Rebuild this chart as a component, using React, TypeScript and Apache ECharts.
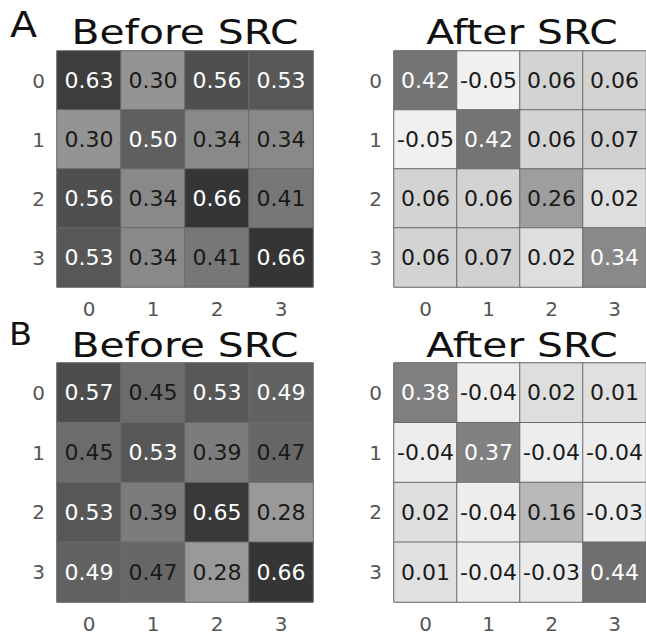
import React, { useEffect, useRef } from "react";
import * as echarts from "echarts";

const categories = ["0", "1", "2", "3"];
const panelTitles = ["Before SRC", "After SRC", "Before SRC", "After SRC"];
const rowLetters = ["A", "B"];

const beforeA = [
  [0.63, 0.30, 0.56, 0.53],
  [0.30, 0.50, 0.34, 0.34],
  [0.56, 0.34, 0.66, 0.41],
  [0.53, 0.34, 0.41, 0.66],
];
const afterA = [
  [0.42, -0.05, 0.06, 0.06],
  [-0.05, 0.42, 0.06, 0.07],
  [0.06, 0.06, 0.26, 0.02],
  [0.06, 0.07, 0.02, 0.34],
];
const beforeB = [
  [0.57, 0.45, 0.53, 0.49],
  [0.45, 0.53, 0.39, 0.47],
  [0.53, 0.39, 0.65, 0.28],
  [0.49, 0.47, 0.28, 0.66],
];
const afterB = [
  [0.38, -0.04, 0.02, 0.01],
  [-0.04, 0.37, -0.04, -0.04],
  [0.02, -0.04, 0.16, -0.03],
  [0.01, -0.04, -0.03, 0.44],
];
// values above which the cell text is white, per panel
const whiteThresholds = [0.48, 0.30, 0.48, 0.30];

const matrices = [beforeA, afterA, beforeB, afterB];

const grids = [
  { left: 57, top: 51, width: 256, height: 236 },
  { left: 394, top: 51, width: 257, height: 236 },
  { left: 57, top: 363, width: 256, height: 239 },
  { left: 394, top: 363, width: 257, height: 239 },
];

export default function App() {
  const ref = useRef<HTMLDivElement>(null);
  useEffect(() => {
    if (!ref.current) return;
    const chart = echarts.init(ref.current, null, { renderer: "svg" });
    const font = "DejaVu Sans";
    const xAxis = grids.map((_, i) => ({
      type: "category",
      gridIndex: i,
      data: categories,
      axisLine: { show: false },
      axisTick: { show: false },
      splitLine: { show: false },
      axisLabel: { color: "#555", fontSize: 20, fontFamily: font, margin: 12 },
    }));
    const yAxis = grids.map((_, i) => ({
      type: "category",
      gridIndex: i,
      data: categories,
      inverse: true,
      axisLine: { show: false },
      axisTick: { show: false },
      splitLine: { show: false },
      axisLabel: { color: "#555", fontSize: 20, fontFamily: font, margin: 12 },
    }));
    const series = matrices.map((m, i) => ({
      type: "heatmap",
      xAxisIndex: i,
      yAxisIndex: i,
      data: m.flatMap((row, r) =>
        row.map((v, c) => ({
          value: [c, r, v],
          label: { color: v > whiteThresholds[i] ? "#ffffff" : "#1a1a1a" },
        }))
      ),
      label: {
        show: true,
        fontSize: 22,
        fontFamily: font,
        formatter: (p: any) => p.value[2].toFixed(2),
      },
      itemStyle: { borderColor: "#6a6a6a", borderWidth: 1 },
    }));
    const titleCenters = grids.map((g) => g.left + 128);
    const titleY = [32, 32, 345, 345];
    const graphic: any[] = panelTitles.map((t, i) => ({
      type: "text",
      x: titleCenters[i],
      y: titleY[i],
      scaleX: 1.2,
      style: {
        text: t,
        fontSize: 34,
        fontFamily: font,
        fill: "#111",
        textAlign: "center",
        textVerticalAlign: "middle",
      },
    }));
    graphic.push({
      type: "text",
      x: 10,
      y: 25,
      scaleX: 1.1,
      style: { text: rowLetters[0], fontSize: 36, fontFamily: font, fill: "#111", textAlign: "left", textVerticalAlign: "middle" },
    });
    graphic.push({
      type: "text",
      x: 9,
      y: 334,
      scaleX: 1.05,
      style: { text: rowLetters[1], fontSize: 32, fontFamily: font, fill: "#111", textAlign: "left", textVerticalAlign: "middle" },
    });
    chart.setOption({
      animation: false,
      backgroundColor: "#ffffff",
      grid: grids.map((g) => ({ ...g, show: true, borderColor: "#bbbbbb", borderWidth: 1 })),
      xAxis,
      yAxis,
      visualMap: {
        type: "continuous",
        show: false,
        min: -0.05,
        max: 0.66,
        seriesIndex: [0, 1, 2, 3],
        inRange: { color: ["#f0f0f0", "#353535"] },
      },
      series,
      graphic,
    } as any);
    return () => chart.dispose();
  }, []);
  return (
    <div
      ref={ref}
      style={{ position: "absolute", left: 0, top: 0, width: 646, height: 635 }}
    />
  );
}
